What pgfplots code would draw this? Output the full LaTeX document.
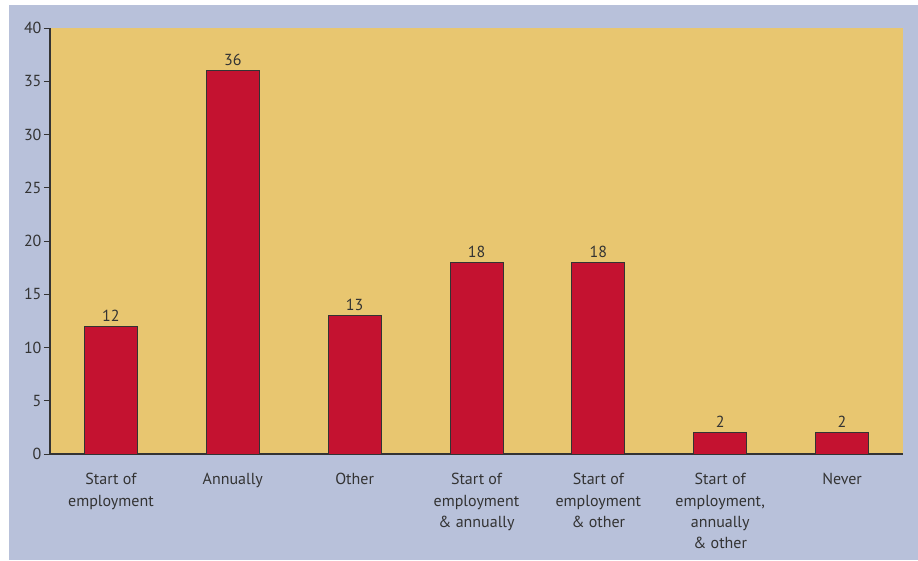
\documentclass[border=0pt]{standalone}
\usepackage{pgfplots}
\pgfplotsset{compat=1.18}
\usepackage{fontspec}
\setmainfont{PT Sans}
\definecolor{bgblue}{HTML}{B8C1DA}
\definecolor{plotyellow}{HTML}{E8C670}
\definecolor{barred}{HTML}{C41230}
\definecolor{txt}{HTML}{333333}
\begin{document}
\begin{tikzpicture}[x=1pt,y=1pt]
\useasboundingbox (-50,-106) rectangle (868,454);
\fill[bgblue] (-41,-106) rectangle (868,449);
\begin{axis}[
  width=853pt, height=426pt, scale only axis,
  axis background/.style={fill=plotyellow},
  xmin=-0.5, xmax=6.5, ymin=0, ymax=40,
  ytick={0,5,...,40},
  xtick={0,1,2,3,4,5,6},
  xticklabels={{Start of\\employment},{Annually},{Other},{Start of\\employment\\\& annually},{Start of\\employment\\\& other},{Start of\\employment,\\annually\\\& other},{Never}},
  axis lines*=left,
  axis line style={draw=txt, line width=1.2pt},
  tick align=outside,
  major tick length=6pt,
  xtick style={draw=none},
  ytick style={draw=txt, line width=1pt},
  /pgf/number format/assume math mode=true,
  tick label style={font={\fontsize{16}{21.3}\selectfont}, text=txt},
  xticklabel style={align=center, yshift=-10pt},
  yticklabel style={xshift=1pt},
  ybar, bar width=53pt,
  nodes near coords,
  every node near coord/.append style={font={\fontsize{16}{18}\selectfont}, text=txt, yshift=1pt},
  clip=false,
]
\addplot[fill=barred, draw=txt, line width=0.8pt] coordinates {(0,12) (1,36) (2,13) (3,18) (4,18) (5,2) (6,2)};
\end{axis}
\end{tikzpicture}
\end{document}
